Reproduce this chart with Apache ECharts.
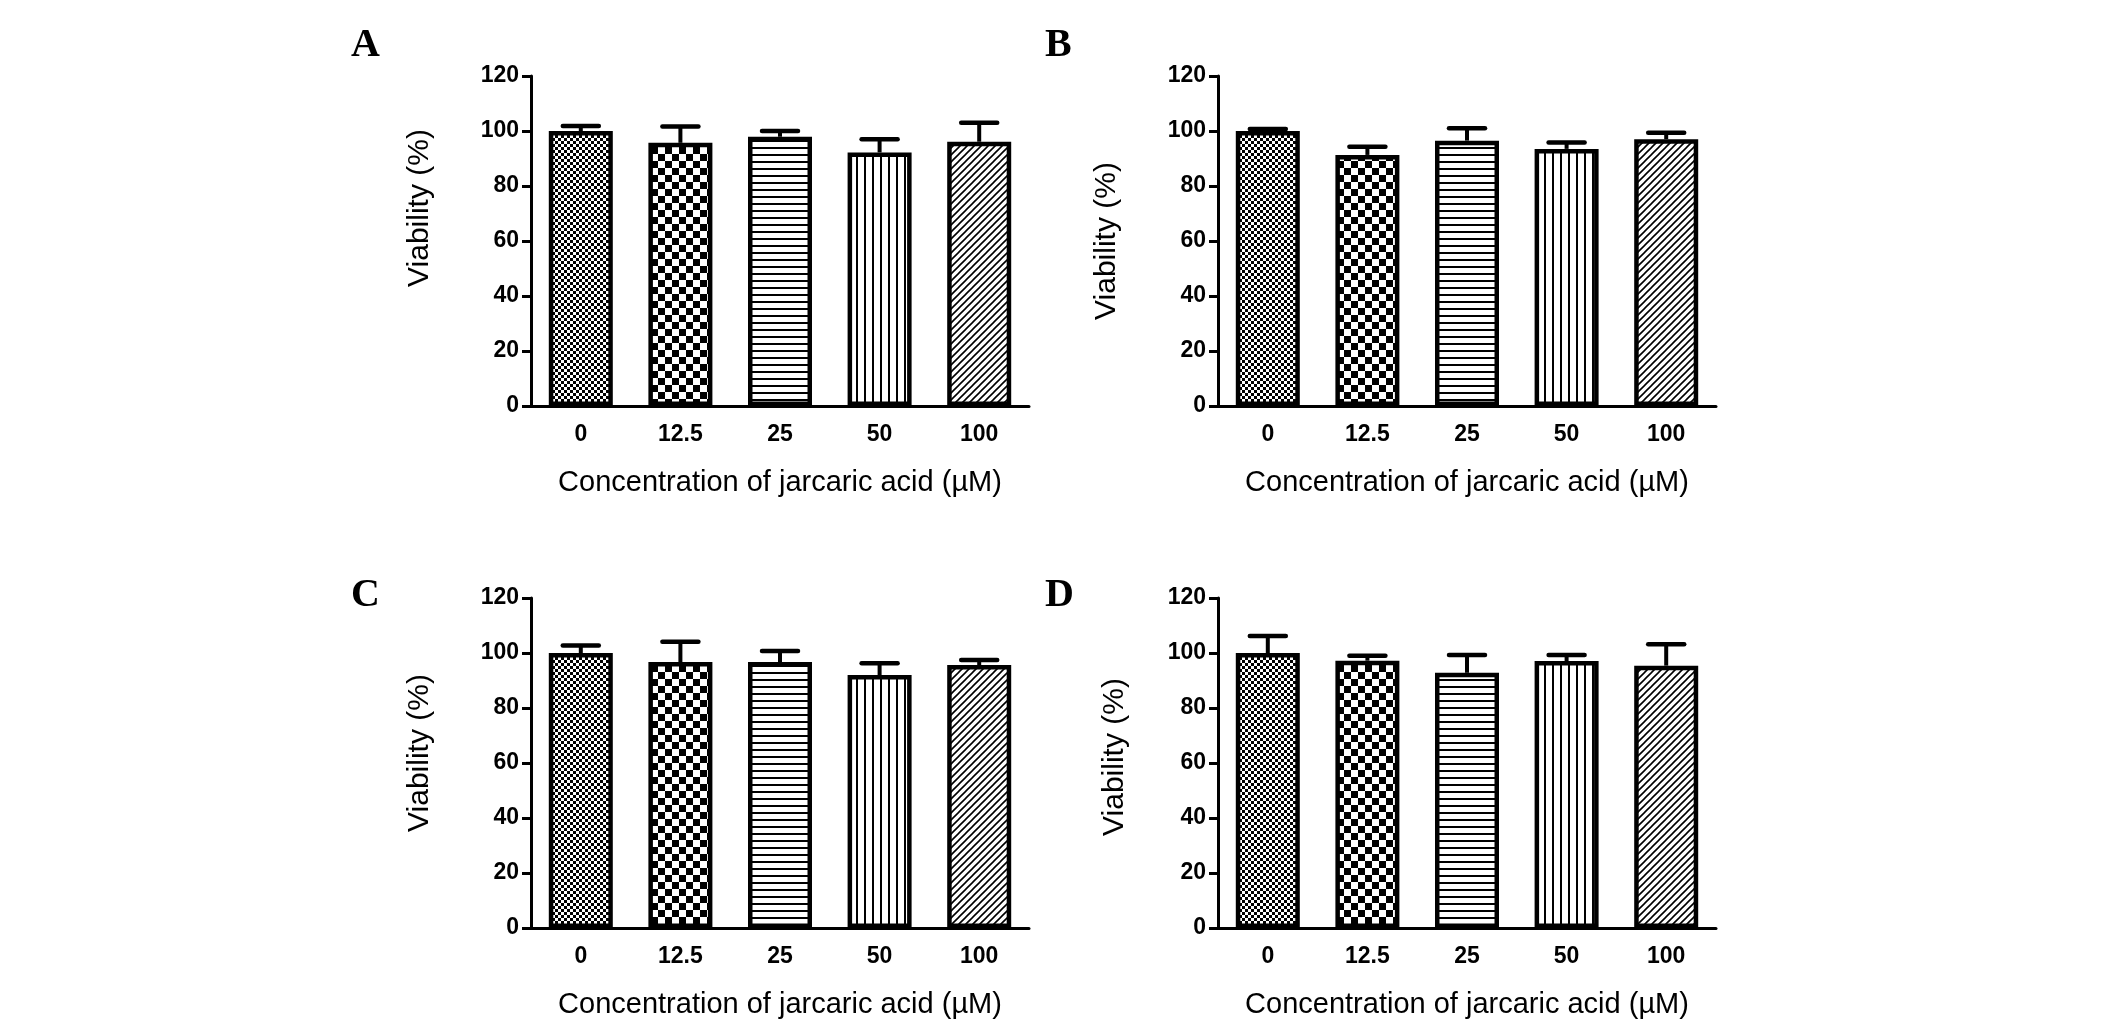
<!DOCTYPE html>
<html>
<head>
<meta charset="utf-8">
<script src="https://cdn.jsdelivr.net/npm/echarts@6/dist/echarts.min.js"></script>
<style>
html,body{margin:0;padding:0;background:#fff;}
#chart{width:2126px;height:1031px;}
</style>
</head>
<body>
<div id="chart"></div>
<script>
// ---- data ----
const categories = ['0', '12.5', '25', '50', '100'];
const yTicks = [0, 20, 40, 60, 80, 100, 120];
const panelLetters = ['A', 'B', 'C', 'D'];
const meanA = [100, 95.7, 97.9, 92.2, 96.1];
const errA  = [1.8, 5.9, 2.1, 4.8, 6.9];
const meanB = [100, 91.3, 96.5, 93.5, 97.0];
const errB  = [0.7, 3.0, 4.5, 2.3, 2.4];
const meanC = [100, 96.7, 96.7, 92.0, 95.6];
const errC  = [2.7, 7.4, 4.0, 4.3, 1.9];
const meanD = [100, 97.2, 92.8, 97.1, 95.4];
const errD  = [6.2, 1.8, 6.5, 2.2, 7.8];
const xTitle = 'Concentration of jarcaric acid (\u00b5M)';
const yTitle = 'Viability (%)';

// ---- fill patterns ----
function tile(w, h, draw) {
  const c = document.createElement('canvas');
  c.width = w; c.height = h;
  const g = c.getContext('2d');
  g.fillStyle = '#fff'; g.fillRect(0, 0, w, h);
  g.fillStyle = '#000'; g.strokeStyle = '#000';
  draw(g, w, h);
  return { image: c, repeat: 'repeat' };
}
const patterns = [
  tile(6, 6, (g) => { g.fillRect(0, 0, 3, 3); g.fillRect(3, 3, 3, 3); }),
  tile(14, 14, (g) => { g.fillRect(0, 0, 7, 7); g.fillRect(7, 7, 7, 7); }),
  tile(8, 7, (g) => { g.fillRect(0, 0, 8, 2); }),
  tile(8, 8, (g) => { g.fillRect(0, 0, 2, 8); }),
  tile(7, 7, (g, w, h) => {
    g.lineWidth = 1.6;
    g.beginPath();
    g.moveTo(-1, h + 1); g.lineTo(w + 1, -1);
    g.moveTo(-1, 1); g.lineTo(1, -1);
    g.moveTo(w - 1, h + 1); g.lineTo(w + 1, h - 1);
    g.stroke();
  })
];

const panels = [
  { mean: meanA, err: errA, left: 531, top: 76, namePad: 66, nameGap: 96 },
  { mean: meanB, err: errB, left: 1218, top: 76, namePad: 0, nameGap: 96 },
  { mean: meanC, err: errC, left: 531, top: 598, namePad: 20, nameGap: 96 },
  { mean: meanD, err: errD, left: 1218, top: 598, namePad: 12, nameGap: 88 }
];
const letterPos = [[351, 26], [1045, 26], [351, 576], [1045, 576]];

const grids = [], xAxes = [], yAxes = [], series = [], titles = [];
const labelFont = { fontFamily: 'Liberation Sans, Arial, sans-serif', fontWeight: 'bold', fontSize: 23, color: '#000' };

panels.forEach((p, i) => {
  grids.push({ left: p.left, top: p.top, width: 498, height: 330, containLabel: false });
  xAxes.push({
    type: 'category', gridIndex: i, data: categories,
    axisLine: { lineStyle: { color: '#000', width: 3 } },
    axisTick: { alignWithLabel: true, length: 9, lineStyle: { color: '#000', width: 3 } },
    axisLabel: Object.assign({ margin: 17 }, labelFont),
    name: xTitle, nameLocation: 'middle', nameGap: 62,
    nameTextStyle: { fontFamily: 'Liberation Sans, Arial, sans-serif', fontSize: 29, color: '#000' }
  });
  yAxes.push({
    type: 'value', gridIndex: i, min: 0, max: 120, interval: 20,
    axisLine: { show: true, lineStyle: { color: '#000', width: 3 } },
    axisTick: { show: true, length: 9, lineStyle: { color: '#000', width: 3 } },
    splitLine: { show: false },
    axisLabel: Object.assign({ margin: 12 }, labelFont),
    name: yTitle, nameLocation: 'middle', nameGap: p.nameGap,
    nameTextStyle: { fontFamily: 'Liberation Sans, Arial, sans-serif', fontSize: 30, color: '#000',
      padding: [0, 0, 0, p.namePad] }
  });
  series.push({
    type: 'bar', xAxisIndex: i, yAxisIndex: i, barWidth: 64,
    data: p.mean.map((v, k) => ({ value: v, itemStyle: { color: patterns[k], borderColor: '#000', borderWidth: 4.5 } })),
    silent: true, z: 2
  });
  series.push({
    type: 'custom', xAxisIndex: i, yAxisIndex: i, z: 3, silent: true,
    data: p.mean.map((v, k) => [k, v, p.err[k]]),
    renderItem: function (params, api) {
      const x = api.value(0), m = api.value(1), e = api.value(2);
      const base = api.coord([x, m]);
      const top = api.coord([x, m + e]);
      const half = 18;
      return {
        type: 'group', children: [
          { type: 'line', shape: { x1: base[0], y1: base[1], x2: top[0], y2: top[1] }, style: { stroke: '#000', lineWidth: 4 } },
          { type: 'line', shape: { x1: top[0] - half, y1: top[1], x2: top[0] + half, y2: top[1] }, style: { stroke: '#000', lineWidth: 4.5, lineCap: 'round' } }
        ]
      };
    }
  });
  titles.push({
    text: panelLetters[i], left: letterPos[i][0], top: letterPos[i][1], padding: 0,
    textStyle: { fontFamily: 'Liberation Serif, Times New Roman, serif', fontWeight: 'bold', fontSize: 40, color: '#000' }
  });
});

const chart = echarts.init(document.getElementById('chart'), null, { renderer: 'canvas' });
chart.setOption({
  backgroundColor: '#fff',
  animation: false,
  title: titles,
  grid: grids,
  xAxis: xAxes,
  yAxis: yAxes,
  series: series
});
</script>
</body>
</html>
